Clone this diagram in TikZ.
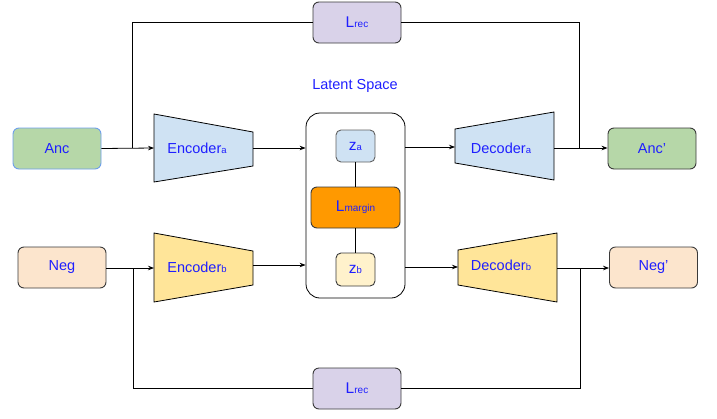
\documentclass[tikz,border=0pt]{standalone}
\usepackage{fontspec}
\setmainfont{Liberation Sans}
\usetikzlibrary{arrows.meta}
\definecolor{txt}{HTML}{1F1FFF}
\definecolor{gfill}{HTML}{B6D7A8}
\definecolor{bfill}{HTML}{CFE2F3}
\definecolor{yfill}{HTML}{FFE599}
\definecolor{lyfill}{HTML}{FFF2CC}
\definecolor{ofill}{HTML}{FCE5CD}
\definecolor{pfill}{HTML}{D9D2E9}
\definecolor{orfill}{HTML}{FF9900}
\definecolor{edge}{HTML}{3A3A3A}
\definecolor{ancedge}{HTML}{6D9EEB}
\newcommand{\sub}[1]{{\fontsize{9.5}{10}\selectfont #1}}
\newcommand{\Lsub}[1]{{\fontsize{15.5}{16}\selectfont L}{\fontsize{10}{10}\selectfont #1}}
\tikzset{
  box/.style={draw=edge, line width=0.9pt, rounded corners=6pt, minimum width=88pt, minimum height=41pt, inner sep=0pt, text=txt, font=\fontsize{14.5}{16}\selectfont},
  smallbox/.style={box, minimum width=39pt, minimum height=32pt, rounded corners=5pt, font=\fontsize{15.5}{16}\selectfont},
  trap/.style={draw=black, line width=0.8pt},
  lbl/.style={text=txt, font=\fontsize{14.5}{16}\selectfont, inner sep=0pt},
  conn/.style={line width=0.8pt, draw=black},
  arr/.style={conn, -{Stealth[length=6pt,width=4.5pt]}},
}
\begin{document}
\begin{tikzpicture}[x=1pt,y=-1pt]
\useasboundingbox (0,0) rectangle (717,418);

% end boxes
\node[box, fill=gfill, draw=ancedge] (anc) at (57,148.5) {Anc};
\node[box, fill=gfill] (ancp) at (652,148.5) {Anc'};
\node[box, fill=ofill] (neg) at (62,267.5) {Neg};
\node[box, fill=ofill] (negp) at (653.5,267.5) {Neg'};
\node[box, fill=pfill] (lrect) at (357,22.5) {\Lsub{rec}};
\node[box, fill=pfill] (lrecb) at (357,388.5) {\Lsub{rec}};

% latent space
\node[lbl] (lstitle) at (355,86) {Latent Space};
\node[draw=black, line width=0.8pt, rounded corners=14pt, minimum width=99pt, minimum height=185pt, inner sep=0pt] (latent) at (355.5,205.5) {};
\node[smallbox, fill=bfill, draw=edge!80] (za) at (355.5,146) {z\sub{a}};
\node[box, fill=orfill, minimum width=89pt] (lm) at (355.5,207.5) {\Lsub{margin}};
\node[smallbox, fill=lyfill, minimum height=33pt] (zb) at (355.5,269.5) {z\sub{b}};

% trapezoids
\filldraw[trap, fill=bfill] (154,114) -- (253,132) -- (253,166) -- (154,182) -- cycle;
\filldraw[trap, fill=yfill] (154,233) -- (253,251) -- (253,285) -- (154,302) -- cycle;
\filldraw[trap, fill=bfill] (455,129) -- (554,112) -- (554,180) -- (455,163) -- cycle;
\filldraw[trap, fill=yfill] (458,250) -- (557,233) -- (557,302) -- (458,285) -- cycle;
\node[lbl] (enca) at (197,148) {Encoder\sub{a}};
\node[lbl] (encb) at (197,267) {Encoder\sub{b}};
\node[lbl] (deca) at (501,148) {Decoder\sub{a}};
\node[lbl] (decb) at (501,265) {Decoder\sub{b}};

% connection points
\coordinate (encaIn) at (154,148);
\coordinate (encaOut) at (253,148);
\coordinate (encbIn) at (154,268);
\coordinate (encbOut) at (253,265);
\coordinate (decaIn) at (455,147);
\coordinate (decaOut) at (554,148);
\coordinate (decbIn) at (458,267);
\coordinate (decbOut) at (557,268);
\coordinate (jA) at (132,148);
\coordinate (jAp) at (579,148);
\coordinate (jN) at (133,268);
\coordinate (jNp) at (580,268);

% connectors
\draw[arr] (anc.east) -- (encaIn);
\draw[arr] (encaOut) -- (latent.west |- encaOut);
\draw[arr] (latent.east |- decaIn) -- (decaIn);
\draw[arr] (decaOut) -- (ancp.west |- decaOut);
\draw[arr] (neg.east |- encbIn) -- (encbIn);
\draw[arr] (encbOut) -- (latent.west |- encbOut);
\draw[arr] (latent.east |- decbIn) -- (decbIn);
\draw[arr] (decbOut) -- (negp.west |- decbOut);
\draw[conn] (jA) |- (lrect.west);
\draw[conn] (lrect.east) -| (jAp);
\draw[conn] (jN) |- (lrecb.west);
\draw[conn] (lrecb.east) -| (jNp);
\draw[conn] (za.south) -- (lm.north);
\draw[conn] (lm.south) -- (zb.north);
\end{tikzpicture}
\end{document}
